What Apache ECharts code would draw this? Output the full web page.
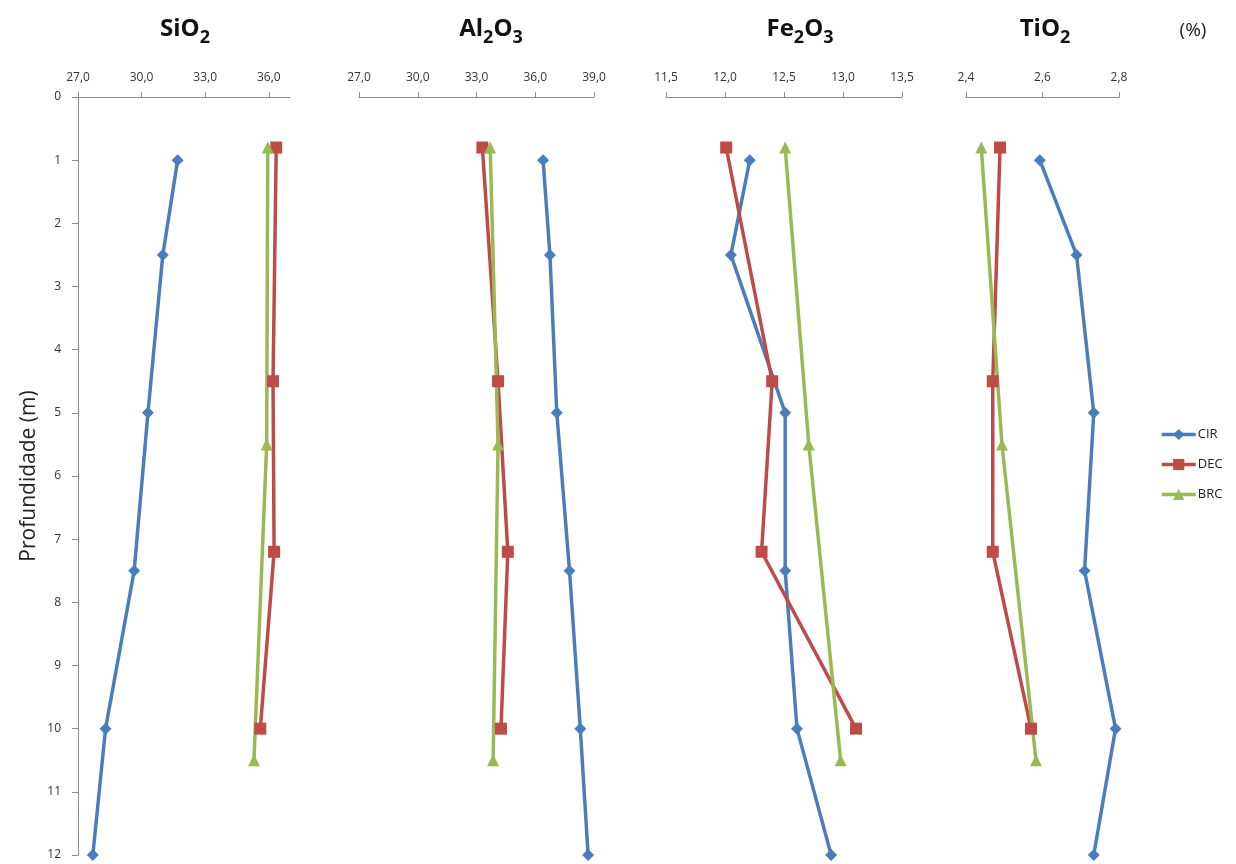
<!DOCTYPE html>
<html><head><meta charset="utf-8">
<script src="https://cdn.jsdelivr.net/npm/echarts@6/dist/echarts.min.js"></script>
<style>html,body{margin:0;padding:0;background:#fff}#c{width:1236px;height:864px}</style>
</head><body><div id="c"></div>
<script>
// depths (m)
const depthCIR = [1, 2.5, 5, 7.5, 10, 12];
const depthDEC = [0.8, 4.5, 7.2, 10];
const depthBRC = [0.8, 5.5, 10.5];
// SiO2 (%)
const sio2CIR = [31.7, 31.0, 30.3, 29.65, 28.3, 27.7];
const sio2DEC = [36.35, 36.2, 36.25, 35.6];
const sio2BRC = [35.95, 35.9, 35.3];
// Al2O3 (%)
const al2o3CIR = [36.4, 36.75, 37.1, 37.75, 38.3, 38.7];
const al2o3DEC = [33.3, 34.1, 34.6, 34.25];
const al2o3BRC = [33.7, 34.1, 33.85];
// Fe2O3 (%)
const fe2o3CIR = [12.21, 12.05, 12.51, 12.51, 12.61, 12.9];
const fe2o3DEC = [12.01, 12.4, 12.31, 13.11];
const fe2o3BRC = [12.51, 12.71, 12.98];
// TiO2 (%)
const tio2CIR = [2.593, 2.689, 2.734, 2.71, 2.791, 2.734];
const tio2DEC = [2.489, 2.47, 2.47, 2.57];
const tio2BRC = [2.44, 2.494, 2.583];
// axis ticks
const sio2Ticks = [27, 30, 33, 36];
const al2o3Ticks = [27, 30, 33, 36, 39];
const fe2o3Ticks = [11.5, 12.0, 12.5, 13.0, 13.5];
const tio2Ticks = [2.4, 2.6, 2.8];
const seriesNames = ['CIR', 'DEC', 'BRC'];
const titles = [['SiO','2'], ['Al','2','O','3'], ['Fe','2','O','3'], ['TiO','2']];

const colors = ['#4A7EBB', '#BE4B48', '#98B954'];
const symbols = ['diamond', 'rect', 'triangle'];
const symbolSizes = [12, 12, 12];
const FONT = '"Open Sans", "Liberation Sans", sans-serif';
const axisColor = '#8c8c8c';

const panels = [
  {left: 78, width: 212, min: 27, max: 37, ticks: sio2Ticks, data: [sio2CIR, sio2DEC, sio2BRC], cx: 180},
  {left: 359, width: 235, min: 27, max: 39, ticks: al2o3Ticks, data: [al2o3CIR, al2o3DEC, al2o3BRC], cx: 486},
  {left: 666, width: 236, min: 11.5, max: 13.5, ticks: fe2o3Ticks, data: [fe2o3CIR, fe2o3DEC, fe2o3BRC], cx: 795},
  {left: 966, width: 153, min: 2.4, max: 2.8, ticks: tio2Ticks, data: [tio2CIR, tio2DEC, tio2BRC], cx: 1040}
];
const depths = [depthCIR, depthDEC, depthBRC];

const grid = [], xAxis = [], yAxis = [], series = [], title = [];
panels.forEach((p, i) => {
  grid.push({left: p.left, width: p.width, top: 97, bottom: 9, containLabel: false});
  xAxis.push({
    type: 'value', gridIndex: i, position: 'top', min: p.min, max: p.max,
    axisLine: {show: true, lineStyle: {color: axisColor, width: 1}},
    axisTick: {show: true, length: 5, customValues: p.ticks, lineStyle: {color: axisColor}},
    axisLabel: {customValues: p.ticks, margin: 13, fontFamily: FONT, fontSize: 12, color: '#333',
      formatter: v => v.toFixed(1).replace('.', ',')},
    splitLine: {show: false}
  });
  yAxis.push({
    type: 'value', gridIndex: i, inverse: true, min: 0, max: 12, interval: 1,
    show: i === 0,
    axisLine: {show: true, onZero: false, lineStyle: {color: axisColor, width: 1}},
    axisTick: {show: true, length: 6, lineStyle: {color: axisColor}},
    axisLabel: {margin: 17, fontFamily: FONT, fontSize: 12, color: '#333'},
    splitLine: {show: false},
    name: i === 0 ? 'Profundidade (m)' : '',
    nameLocation: 'middle', nameGap: 38, nameRotate: 90,
    nameTextStyle: {fontFamily: FONT, fontSize: 21, color: '#222'}
  });
  seriesNames.forEach((n, k) => {
    series.push({
      name: n, type: 'line', xAxisIndex: i, yAxisIndex: i,
      data: p.data[k].map((v, j) => [v, depths[k][j]]),
      symbol: symbols[k], symbolSize: symbolSizes[k],
      lineStyle: {color: colors[k], width: 3.5},
      itemStyle: {color: colors[k]},
      emphasis: {disabled: true}, animation: false
    });
  });
  const t = titles[i];
  const txt = t.length === 2 ? `{b|${t[0]}}{s|${t[1]}}` : `{b|${t[0]}}{s|${t[1]}}{b|${t[2]}}{s|${t[3]}}`;
  title.push({
    text: txt, left: p.cx, top: 12, textAlign: 'center',
    textStyle: {rich: {
      b: {fontFamily: FONT, fontSize: 24, fontWeight: 'bold', color: '#111', verticalAlign: 'bottom'},
      s: {fontFamily: FONT, fontSize: 18, fontWeight: 'bold', color: '#111', verticalAlign: 'bottom', padding: [0,0,-6,0]}
    }}
  });
});
title.push({text: '(%)', left: 1188, top: 16, textAlign: 'center',
  textStyle: {fontFamily: FONT, fontSize: 19, fontWeight: 'normal', color: '#222'}});

const chart = echarts.init(document.getElementById('c'), null, {renderer: 'canvas'});
chart.setOption({
  animation: false,
  backgroundColor: '#fff',
  title, grid, xAxis, yAxis, series,
  legend: {
    data: seriesNames, orient: 'vertical', left: 1155, top: 423,
    itemWidth: 34, itemHeight: 14, itemGap: 17,
    lineStyle: {width: 3.5},
    textStyle: {fontFamily: FONT, fontSize: 13, color: '#222', padding: [0,0,0,-3]}
  }
});
</script></body></html>
